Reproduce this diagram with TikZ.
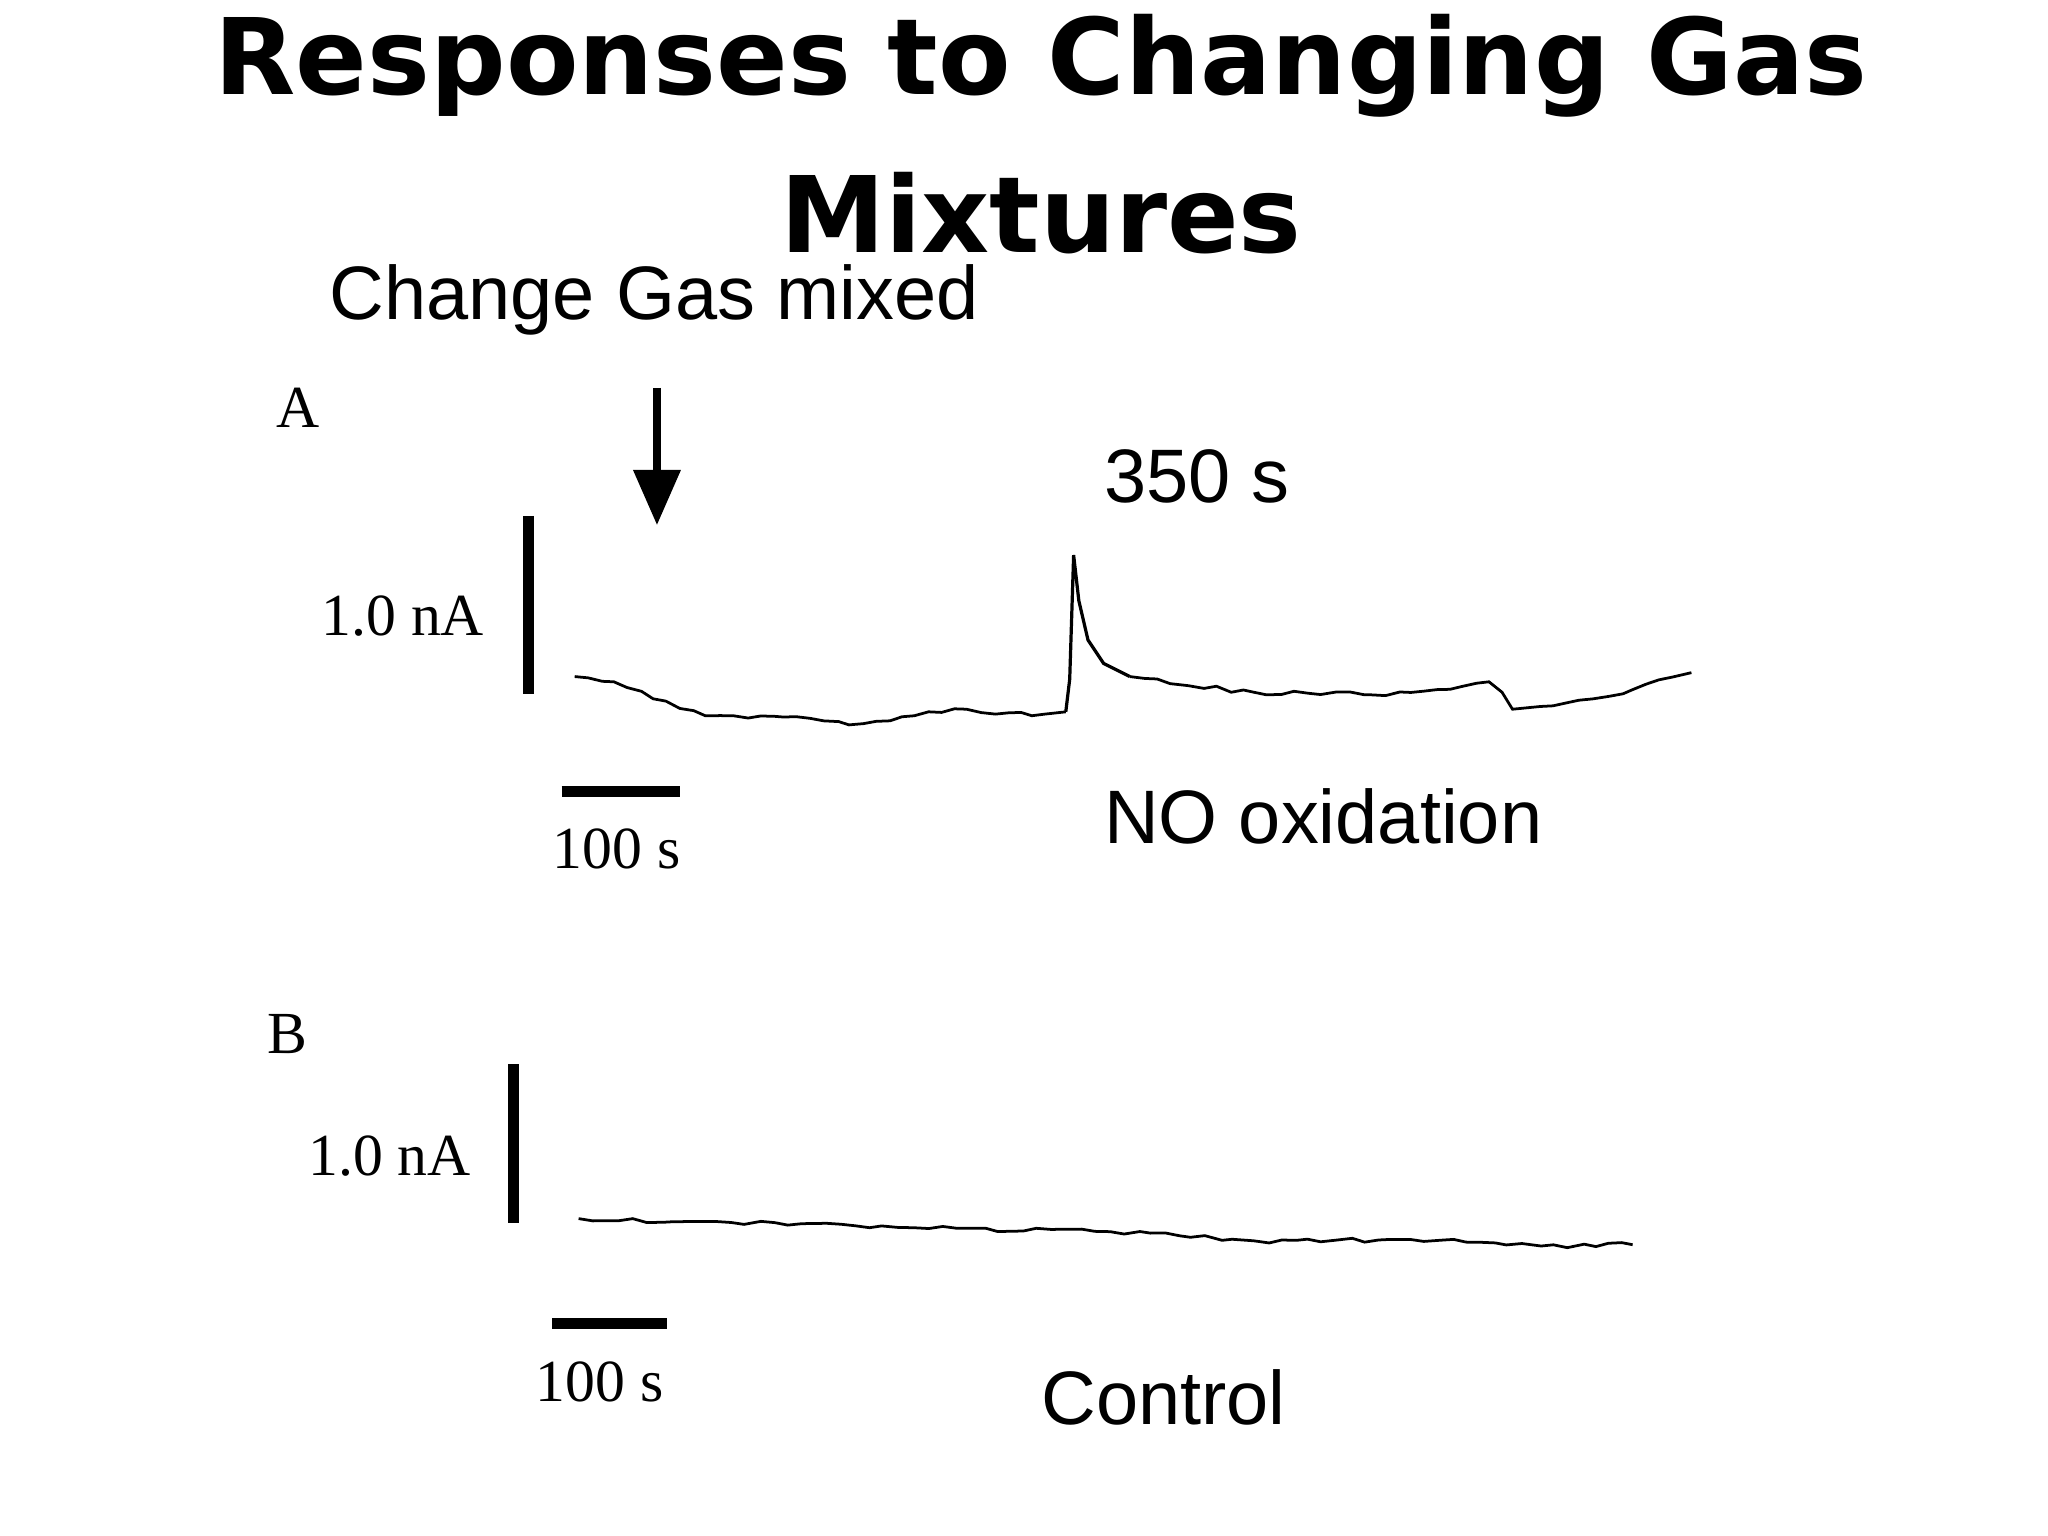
\documentclass[tikz,border=0pt]{standalone}
\usepackage{fontspec}
\setmainfont{Liberation Serif}
\newfontfamily\titlefont{DejaVu Sans}
\newfontfamily\helv{Liberation Sans}
\usetikzlibrary{decorations.pathmorphing,arrows.meta}
\begin{document}
\begin{tikzpicture}[x=0.01cm,y=-0.01cm,
  ttl/.style={font=\titlefont\bfseries\fontsize{23}{28}\selectfont},
  lab/.style={font=\helv\fontsize{16.5}{20}\selectfont,anchor=west},
  ser/.style={font=\fontsize{13}{15}\selectfont},
  bar/.style={line width=2.4pt},
  trace/.style={line width=0.6pt,decorate,decoration={random steps,segment length=3pt,amplitude=0.5pt}}]
\pgfmathsetseed{7}
\useasboundingbox (0,0) rectangle (1568,1176);
\node[ttl] (t1) at (797,50) {Responses to Changing Gas};
\node[ttl] (t2) at (797,163) {Mixtures};
\node[lab] (chg) at (240,230) {Change Gas mixed};
\node[lab] (s350) at (833,365) {350 s};
\node[lab] (nox) at (833,625) {NO oxidation};
\node[lab] (ctl) at (785,1070) {Control};
\node[ser] (A) at (228,312) {A};
\node[ser,anchor=east] (nA1) at (383,472) {1.0 nA};
\node[ser] (s1) at (472,650) {100 s};
\node[ser] (B) at (220,792) {B};
\node[ser,anchor=east] (nA2) at (373,885) {1.0 nA};
\node[ser] (s2) at (459,1058) {100 s};
\draw[bar] (405,395) -- (405,531);
\draw[bar] (430,606) -- (521,606);
\draw[bar] (393,815) -- (393,936);
\draw[bar] (423,1013) -- (511,1013);
\coordinate (a0) at (503,297);
\coordinate (a1) at (503,402);
\draw[line width=1.6pt,-{Triangle[length=12pt,width=10pt]}] (a0) -- (a1);
\draw[trace] (440,518) -- (470,522) -- (500,535) -- (540,548) -- (600,549) -- (650,555) -- (700,548) -- (740,543) -- (790,548) -- (816,545);
\draw[line width=0.7pt] (816,545) -- (819,520) -- (822,425) -- (826,460) -- (833,490) -- (845,508) -- (865,518);
\draw[trace] (865,518) -- (910,525) -- (960,530) -- (1050,532) -- (1100,528) -- (1140,522) -- (1150,530) -- (1158,543) -- (1200,538) -- (1250,528) -- (1295,515);
\draw[trace] (443,933) -- (560,936) -- (700,940) -- (850,943) -- (960,950) -- (1080,949) -- (1180,954) -- (1250,953);
\end{tikzpicture}
\end{document}
